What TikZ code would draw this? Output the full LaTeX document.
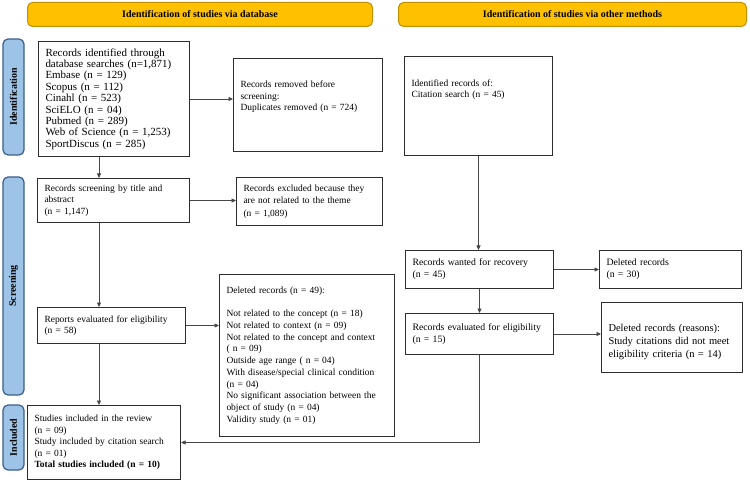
\documentclass[tikz,border=0pt]{standalone}
\usepackage{fontspec}
\setmainfont{Liberation Serif}
\usetikzlibrary{arrows.meta, positioning}
\definecolor{headergold}{RGB}{255,192,0}
\definecolor{headerrim}{RGB}{191,144,0}
\definecolor{stageblue}{RGB}{157,195,230}
\definecolor{stagerim}{RGB}{60,95,135}
\definecolor{boxrim}{RGB}{45,45,45}
\definecolor{linegray}{RGB}{70,70,70}
\tikzset{
  base/.style   = {line width=1bp, font=\fontsize{9.5}{11.5}\selectfont},
  header/.style = {base, draw=headerrim, fill=headergold, rounded corners=5bp,
                   anchor=north west, inner sep=0pt,
                   font=\fontsize{10}{12}\selectfont\bfseries},
  stage/.style  = {base, draw=stagerim, fill=stageblue, rounded corners=5bp,
                   rotate=90, inner sep=0pt, line width=1.2bp,
                   font=\fontsize{10}{12}\selectfont\bfseries},
  box/.style    = {base, draw=boxrim, anchor=north west, align=left,
                   inner xsep=7bp, inner ysep=3bp},
  arr/.style    = {-{Triangle[length=4.5bp, width=4bp]}, line width=0.7bp, color=linegray},
}
\begin{document}
\begin{tikzpicture}[x=1bp, y=-1bp]
  \useasboundingbox (0,0) rectangle (750,481);

  % Headers
  \node[header, minimum width=345bp, minimum height=24bp] (hdata) at (27,2)
    {Identification of studies via database};
  \node[header, minimum width=348bp, minimum height=24bp] (hother) at (398,2)
    {Identification of studies via other methods};

  % Stages
  \node[stage, minimum width=116bp, minimum height=21bp] (sident)  at (13.5,97)  {Identification};
  \node[stage, minimum width=218bp, minimum height=21bp] (sscreen) at (13.5,286) {Screening};
  \node[stage, minimum width=65bp,  minimum height=21bp] (sincl)   at (13.5,437.5) {Included};

  % Database branch
  \node[box, text width=137bp, minimum height=115bp, font=\fontsize{11}{11.4}\selectfont] (recid) at (38,41)
    {Records identified through\\database searches (n=1,871)\\Embase (n = 129)\\Scopus (n = 112)\\
     Cinahl (n = 523)\\SciELO (n = 04)\\Pubmed (n = 289)\\Web of Science (n = 1,253)\\SportDiscus (n = 285)};
  \node[box, text width=135bp, minimum height=93bp] (recrem) at (233,58)
    {Records removed before\\screening:\\Duplicates removed (n = 724)\\[7pt]\mbox{}};
  \node[box, text width=138bp, minimum height=44bp] (screen) at (37,178)
    {Records screening by title and\\abstract\\(n = 1,147)};
  \node[box, text width=132bp, minimum height=48bp, font=\fontsize{9.5}{12.5}\selectfont] (excl) at (236,177)
    {Records excluded because they\\are not related to the theme\\(n = 1,089)};
  \node[box, text width=134bp, minimum height=36bp] (elig) at (37,307)
    {Reports evaluated for eligibility\\(n = 58)};
  \node[box, text width=161bp, minimum height=162bp, font=\fontsize{9.5}{11.8}\selectfont] (dele) at (219,274)
    {Deleted records (n = 49):\\\mbox{}\\Not related to the concept (n = 18)\\Not related to context (n = 09)\\
     Not related to the concept and context\\( n = 09)\\Outside age range ( n = 04)\\
     With disease/special clinical condition\\(n = 04)\\No significant association between the\\
     object of study (n = 04)\\Validity study (n = 01)};
  \node[box, text width=139bp, minimum height=74bp] (incl) at (27,405)
    {Studies included in the review\\(n = 09)\\Study included by citation search\\(n = 01)\\
     \textbf{Total studies included (n = 10)}};

  % Other methods branch
  \node[box, text width=134bp, minimum height=99bp] (cite) at (404,56)
    {Identified records of:\\Citation search (n = 45)\\[23pt]\mbox{}};
  \node[box, text width=134bp, minimum height=38bp, font=\fontsize{9.8}{12}\selectfont] (want) at (405,250)
    {Records wanted for recovery\\(n = 45)};
  \node[box, text width=128bp, minimum height=38bp, font=\fontsize{9.8}{12}\selectfont] (delw) at (599,250)
    {Deleted records\\(n = 30)};
  \node[box, text width=134bp, minimum height=41bp, font=\fontsize{9.8}{12}\selectfont] (evalo) at (405,313)
    {\mbox{}\\[-5pt]Records evaluated for eligibility\\(n = 15)};
  \node[box, text width=127bp, minimum height=70bp, font=\fontsize{10.5}{13}\selectfont] (delo) at (601,302)
    {\mbox{}\\[3pt]Deleted records (reasons):\\Study citations did not meet\\eligibility criteria (n = 14)};

  % Connectors
  \coordinate (spine) at (99,0);
  \draw[arr] (recid.east) -- (recid.east -| recrem.west);
  \draw[arr] (recid.south -| spine) -- (screen.north -| spine);
  \draw[arr] (screen.east) -- (screen.east -| excl.west);
  \draw[arr] (screen.south -| spine) -- (elig.north -| spine);
  \draw[arr] (elig.east) -- (elig.east -| dele.west);
  \draw[arr] (elig.south -| spine) -- (incl.north -| spine);
  \draw[arr] (cite.south) -- (cite.south |- want.north);
  \draw[arr] (want.east) -- (want.east -| delw.west);
  \draw[arr] (want.south) -- (want.south |- evalo.north);
  \draw[arr] (evalo.east) -- (evalo.east -| delo.west);
  \draw[arr] (evalo.south) |- (incl.east);
\end{tikzpicture}
\end{document}
